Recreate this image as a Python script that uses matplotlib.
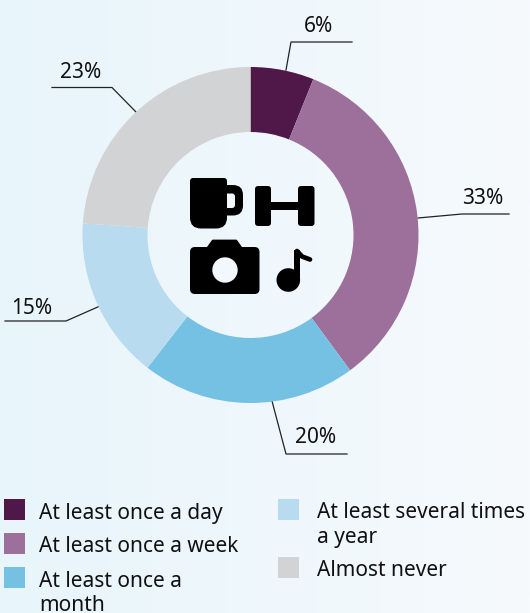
import numpy as np
import matplotlib
matplotlib.use("Agg")
import matplotlib.pyplot as plt
from matplotlib.patches import Circle, FancyBboxPatch, Polygon, Rectangle

plt.rcParams['font.family'] = ['Noto Sans', 'DejaVu Sans']

W, H = 530, 613

categories = ["At least once a day", "At least once a week", "At least once a\nmonth",
              "At least several times\na year", "Almost never"]
values = [6.1, 33.8, 20.6, 15.6, 23.9]
pct_labels = ["6%", "33%", "20%", "15%", "23%"]
colors = ["#4f1848", "#9d709c", "#75c1e3", "#b9dbef", "#d1d3d4"]

BLACK = "#000000"
BG_LEFT = np.array([232, 245, 251]) / 255
BG_RIGHT = np.array([246, 250, 253]) / 255
HOLE = "#f2f8fc"

fig = plt.figure(figsize=(W / 100, H / 100), dpi=100)

# overlay in pixel coordinates, for the background, leaders, icons and legend
over = fig.add_axes([0, 0, 1, 1])
over.set_xlim(0, W)
over.set_ylim(H, 0)
over.axis("off")

t = np.linspace(0, 1, 256)[None, :, None]
over.imshow(BG_LEFT + (BG_RIGHT - BG_LEFT) * t, extent=[0, W, H, 0], aspect="auto", zorder=0)
over.set_xlim(0, W)
over.set_ylim(H, 0)

# donut
R = 168
cx, cy = 250.5, 235
pie_ax = fig.add_axes([(cx - R) / W, 1 - (cy + R) / H, 2 * R / W, 2 * R / H])
pie_ax.patch.set_alpha(0)
pie_ax.pie(values, colors=colors, startangle=90, counterclock=False, radius=1,
           wedgeprops={"width": 65 / R, "linewidth": 0})
pie_ax.set_xlim(-1, 1)
pie_ax.set_ylim(-1, 1)

# leader lines and percent labels
leaders = [
    [(286, 70), (291, 42), (352, 42)],
    [(418, 218), (462, 214), (509, 214)],
    [(272, 401), (286, 454), (347, 454)],
    [(100, 306), (66, 321), (5, 321)],
    [(136, 112), (112, 87.5), (52, 87.5)],
]
label_pos = [(318.5, 31.5), (483, 204.5), (316, 443), (32, 313.5), (81, 77.5)]
for pts, lab, pos in zip(leaders, pct_labels, label_pos):
    xs, ys = zip(*pts)
    over.plot(xs, ys, color="#222222", lw=0.9, solid_joinstyle="miter", zorder=3)
    over.text(pos[0], pos[1], lab, ha="center", va="baseline", fontsize=15, color="#111111", zorder=4)


def rbox(x0, y0, x1, y1, r, color=BLACK):
    over.add_patch(FancyBboxPatch((x0 + r, y0 + r), x1 - x0 - 2 * r, y1 - y0 - 2 * r,
                                  boxstyle="round,pad=%g,rounding_size=%g" % (r, r),
                                  fc=color, ec="none", zorder=5))


# mug
rbox(215, 185, 243, 215.5, 10)
rbox(215, 193.5, 235, 208, 3, color=HOLE)
rbox(190, 196, 227, 228.5, 11)
rbox(190, 178, 227, 210, 3)
# dumbbell
rbox(255, 186, 271, 226, 3)
rbox(298, 186, 314.5, 226, 3)
over.add_patch(Rectangle((270, 202), 29, 8, fc=BLACK, ec="none", zorder=5))
# camera
rbox(190, 247, 259.5, 294, 5)
over.add_patch(Polygon([(208, 248), (213, 241), (236, 241), (241, 248)], fc=BLACK, ec=BLACK,
                       lw=2, joinstyle="round", zorder=5))
over.add_patch(Circle((225, 270), 12.7, fc=HOLE, ec="none", zorder=6))
# music note
over.add_patch(Circle((288.3, 280), 11.8, fc=BLACK, ec="none", zorder=5))
over.add_patch(Rectangle((294, 250), 5.5, 30, fc=BLACK, ec="none", zorder=5))
over.plot([297, 302, 310], [251, 256.5, 259.5], color=BLACK, lw=3.4, solid_capstyle="round", zorder=5)

# legend
legend_box = [(4, 499), (4, 533), (4, 567), (278, 499), (278, 557)]
legend_text = [(39, 518.5), (39, 552.5), (39, 587), (317, 518.5), (317, 576.5)]
for cat, col, box, pos in zip(categories, colors, legend_box, legend_text):
    over.add_patch(Rectangle(box, 21, 21, fc=col, ec="none", zorder=3))
    for i, line in enumerate(cat.split("\n")):
        over.text(pos[0], pos[1] + i * 24, line, ha="left", va="baseline", fontsize=15,
                  color="#111111", zorder=4)

fig.savefig("out.png", dpi=100)
